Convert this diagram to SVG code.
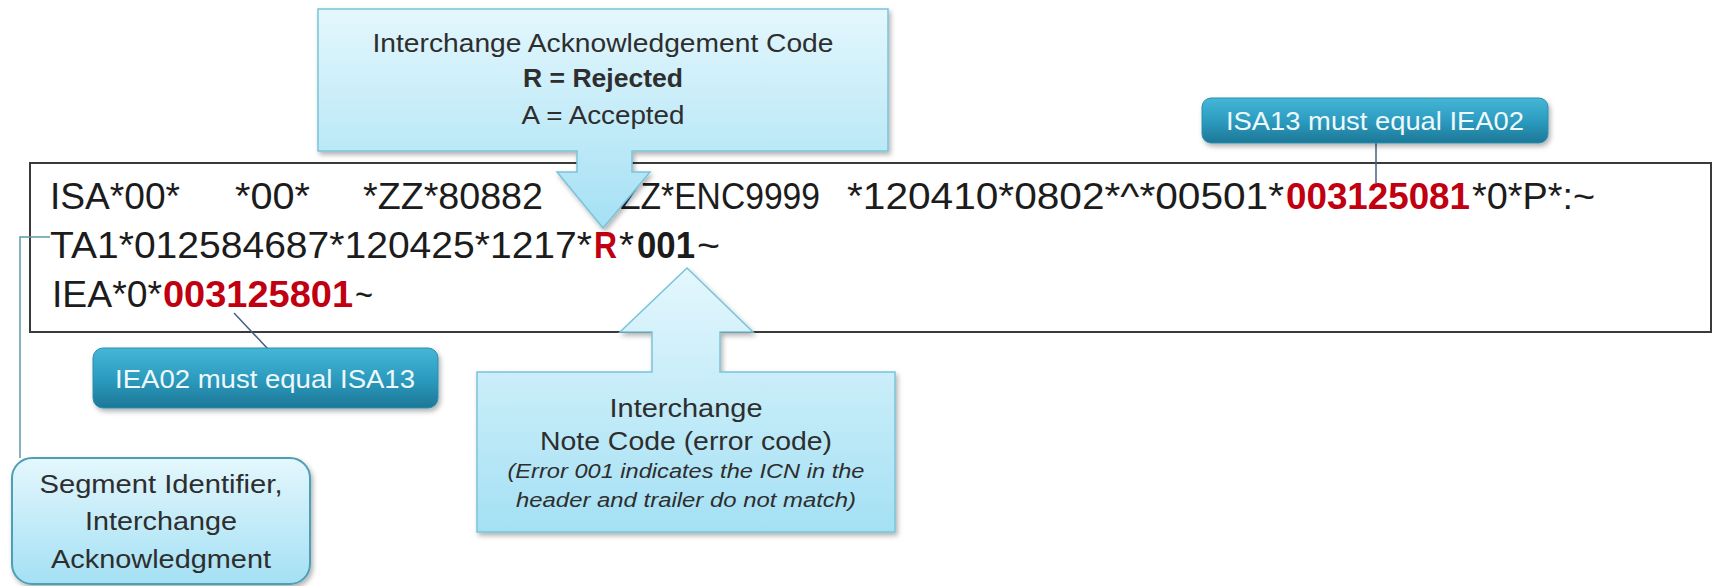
<svg xmlns="http://www.w3.org/2000/svg" width="1715" height="586" viewBox="0 0 1715 586">
<defs>
<linearGradient id="gLight" x1="0" y1="0" x2="0" y2="1">
<stop offset="0" stop-color="#e4f7fd"/>
<stop offset="1" stop-color="#a4e0f4"/>
</linearGradient>
<linearGradient id="gDark" x1="0" y1="0" x2="0" y2="1">
<stop offset="0" stop-color="#46b6d6"/>
<stop offset="0.5" stop-color="#2c9cc0"/>
<stop offset="1" stop-color="#1d7796"/>
</linearGradient>
<filter id="sh" x="-10%" y="-10%" width="130%" height="140%">
<feDropShadow dx="2" dy="3" stdDeviation="2.5" flood-color="#000" flood-opacity="0.3"/>
</filter>
</defs>
<style>
text{font-family:"Liberation Sans",Arial,sans-serif}
.code{font-size:36px;fill:#1c1c1c}
.red{fill:#c00010;font-weight:bold}
.bold{font-weight:bold}
.lbl{font-size:26px;fill:#2e2e2e;text-anchor:middle}
.ital{font-size:20px;font-style:italic;fill:#2e2e2e;text-anchor:middle}
.wlbl{font-size:25px;fill:#eef8fb;text-anchor:middle}
.light{fill:url(#gLight);stroke:#79c3d8;stroke-width:1.5;filter:url(#sh)}
.dark{fill:url(#gDark);stroke:#2a8fb0;stroke-width:1;filter:url(#sh)}
.conn{fill:none;stroke-width:1.5}
</style>
<rect width="1715" height="586" fill="#ffffff"/>

<g id="record">
<rect x="30" y="163" width="1681" height="169" fill="#ffffff" stroke="#3a3a3a" stroke-width="2"/>
<text class="code" y="209"><tspan x="50" textLength="130" lengthAdjust="spacingAndGlyphs">ISA*00*</tspan><tspan x="235" textLength="75" lengthAdjust="spacingAndGlyphs">*00*</tspan><tspan x="363" textLength="180" lengthAdjust="spacingAndGlyphs">*ZZ*80882</tspan><tspan x="620" textLength="200" lengthAdjust="spacingAndGlyphs">ZZ*ENC9999</tspan><tspan x="847" textLength="437" lengthAdjust="spacingAndGlyphs">*120410*0802*^*00501*</tspan><tspan class="red" x="1286" textLength="184" lengthAdjust="spacingAndGlyphs">003125081</tspan><tspan x="1472" textLength="123" lengthAdjust="spacingAndGlyphs">*0*P*:~</tspan></text>
<text class="code" y="258"><tspan x="50" textLength="542" lengthAdjust="spacingAndGlyphs">TA1*012584687*120425*1217*</tspan><tspan class="red" x="594" textLength="23" lengthAdjust="spacingAndGlyphs">R</tspan><tspan x="619" textLength="15" lengthAdjust="spacingAndGlyphs">*</tspan><tspan class="bold" x="637" textLength="58" lengthAdjust="spacingAndGlyphs">001</tspan><tspan x="697" textLength="23" lengthAdjust="spacingAndGlyphs">~</tspan></text>
<text class="code" y="307"><tspan x="52" textLength="110" lengthAdjust="spacingAndGlyphs">IEA*0*</tspan><tspan class="red" x="163" textLength="190" lengthAdjust="spacingAndGlyphs">003125801</tspan><tspan x="355" textLength="18" lengthAdjust="spacingAndGlyphs">~</tspan></text>
</g>

<g id="connectors">
<polyline class="conn" points="20,458 20,237 50,237" stroke="#5b9aaa" stroke-width="2"/>
<line class="conn" x1="234" y1="313" x2="268" y2="349" stroke="#46607f"/>
<line class="conn" x1="1376" y1="143" x2="1376" y2="183" stroke="#46607f"/>
</g>

<g id="callout-ack">
<path class="light" d="M318,9 H888 V151 H632 V172 H650 L603,228 L557,172 H577 V151 H318 Z"/>
<text class="lbl" x="603" y="52" textLength="461" lengthAdjust="spacingAndGlyphs">Interchange Acknowledgement Code</text>
<text class="lbl bold" x="603" y="87" textLength="160" lengthAdjust="spacingAndGlyphs">R = Rejected</text>
<text class="lbl" x="603" y="124" textLength="163" lengthAdjust="spacingAndGlyphs">A = Accepted</text>
</g>

<g id="callout-note">
<path class="light" d="M477,372 H652 V332 H620 L687,268 L753,332 H720 V372 H895 V532 H477 Z"/>
<text class="lbl" x="686" y="417" textLength="153" lengthAdjust="spacingAndGlyphs">Interchange</text>
<text class="lbl" x="686" y="450" textLength="292" lengthAdjust="spacingAndGlyphs">Note Code (error code)</text>
<text class="ital" x="686" y="478" textLength="357" lengthAdjust="spacingAndGlyphs">(Error 001 indicates the ICN in the</text>
<text class="ital" x="686" y="507" textLength="340" lengthAdjust="spacingAndGlyphs">header and trailer do not match)</text>
</g>

<g id="note-isa13">
<rect class="dark" x="1202" y="98" width="346" height="45" rx="9"/>
<text class="wlbl" x="1375" y="130" textLength="298" lengthAdjust="spacingAndGlyphs">ISA13 must equal IEA02</text>
</g>

<g id="note-iea02">
<rect class="dark" x="93" y="348" width="345" height="60" rx="10"/>
<text class="wlbl" x="265" y="388" textLength="300" lengthAdjust="spacingAndGlyphs">IEA02 must equal ISA13</text>
</g>

<g id="note-segment">
<rect x="12" y="458" width="298" height="126" rx="20" fill="url(#gLight)" stroke="#4e9fb5" stroke-width="2" filter="url(#sh)"/>
<text class="lbl" x="161" y="493" textLength="243" lengthAdjust="spacingAndGlyphs">Segment Identifier,</text>
<text class="lbl" x="161" y="530" textLength="152" lengthAdjust="spacingAndGlyphs">Interchange</text>
<text class="lbl" x="161" y="568" textLength="220" lengthAdjust="spacingAndGlyphs">Acknowledgment</text>
</g>
</svg>
